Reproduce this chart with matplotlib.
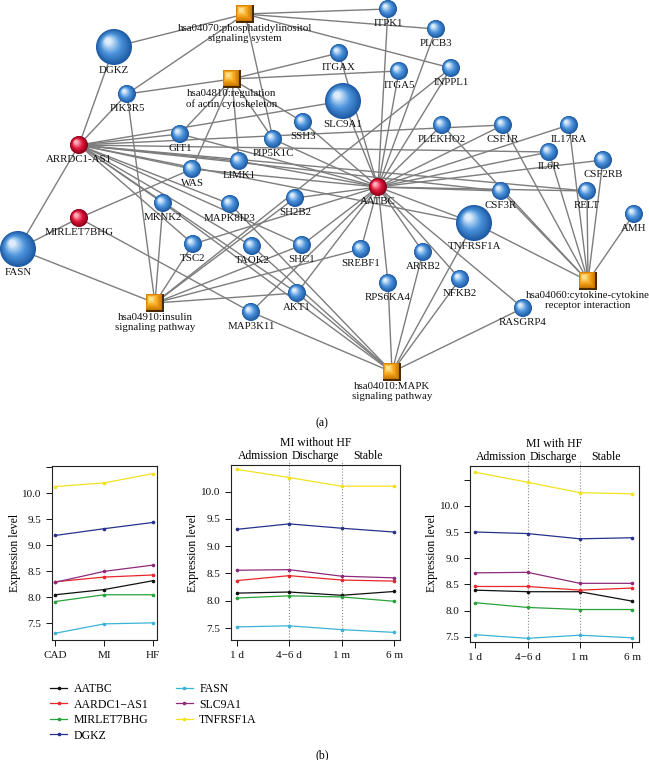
import numpy as np
import matplotlib.pyplot as plt
from matplotlib.patches import Circle, Rectangle
from matplotlib.colors import to_rgb
import matplotlib.transforms as mtrans

plt.rcParams['font.family'] = ['Liberation Serif', 'DejaVu Serif']

W, H = 649, 760

# ---------------- data: panel (b)
genes = ['AATBC', 'AARDC1\u2212AS1', 'MIRLET7BHG', 'DGKZ', 'FASN', 'SLC9A1', 'TNFRSF1A']
gene_colors = ['#111111', '#e8262b', '#27a33a', '#27318a', '#3bb3d6', '#8e2a78', '#f2e21e']

disease_groups = ['CAD', 'MI', 'HF']
disease_levels = [
    [8.05, 8.15, 8.32],
    [8.30, 8.39, 8.43],
    [7.92, 8.05, 8.05],
    [9.19, 9.32, 9.44],
    [7.31, 7.49, 7.51],
    [8.29, 8.50, 8.62],
    [10.13, 10.20, 10.38],
]

time_points = ['1 d', '4\u22126 d', '1 m', '6 m']
phases = ['Admission', 'Discharge', 'Stable']

mi_no_hf = [
    [8.14, 8.16, 8.10, 8.17],
    [8.37, 8.46, 8.38, 8.36],
    [8.05, 8.09, 8.07, 7.99],
    [9.31, 9.41, 9.33, 9.26],
    [7.52, 7.54, 7.47, 7.42],
    [8.56, 8.57, 8.45, 8.42],
    [10.41, 10.26, 10.10, 10.10],
]

mi_hf = [
    [8.39, 8.36, 8.36, 8.18],
    [8.46, 8.46, 8.39, 8.43],
    [8.15, 8.06, 8.02, 8.02],
    [9.50, 9.47, 9.37, 9.39],
    [7.54, 7.47, 7.53, 7.48],
    [8.72, 8.73, 8.52, 8.52],
    [10.64, 10.45, 10.25, 10.23],
]

# ---------------- data: network (a)
lncrnas = ['AATBC', 'ARRDC1-AS1', 'MIRLET7BHG']
big_genes = ['DGKZ', 'SLC9A1', 'FASN', 'TNFRSF1A']

pathway_names = {
    'hsa04070': 'hsa04070:phosphatidylinositol\nsignaling system',
    'hsa04810': 'hsa04810:regulation\nof actin cytoskeleton',
    'hsa04910': 'hsa04910:insulin\nsignaling pathway',
    'hsa04010': 'hsa04010:MAPK\nsignaling pathway',
    'hsa04060': 'hsa04060:cytokine-cytokine\nreceptor interaction',
}

pathway_genes = {
    'hsa04070': ['DGKZ', 'PIK3R5', 'PIP5K1C', 'ITPK1', 'PLCB3', 'INPPL1'],
    'hsa04810': ['PIK3R5', 'GIT1', 'WAS', 'LIMK1', 'PIP5K1C', 'SSH3', 'ITGAX', 'ITGA5'],
    'hsa04910': ['FASN', 'PIK3R5', 'MKNK2', 'TSC2', 'SH2B2', 'SHC1', 'AKT1', 'SREBF1', 'INPPL1'],
    'hsa04010': ['MKNK2', 'MAPK8IP3', 'TAOK2', 'MAP3K11', 'AKT1', 'RPS6KA4', 'ARRB2',
                 'NFKB2', 'TNFRSF1A', 'RASGRP4'],
    'hsa04060': ['CSF1R', 'IL17RA', 'IL6R', 'CSF2RB', 'CSF3R', 'RELT', 'AMH', 'TNFRSF1A', 'PLEKHO2'],
}

lnc_genes = {
    'AATBC': ['ITPK1', 'PLCB3', 'INPPL1', 'ITGA5', 'ITGAX', 'SLC9A1', 'PLEKHO2', 'CSF1R',
              'IL17RA', 'IL6R', 'CSF2RB', 'CSF3R', 'RELT', 'TNFRSF1A', 'RASGRP4', 'NFKB2',
              'ARRB2', 'RPS6KA4', 'SREBF1', 'AKT1', 'SHC1', 'SH2B2', 'TSC2', 'MAP3K11',
              'WAS', 'LIMK1', 'PIP5K1C', 'GIT1', 'SSH3'],
    'ARRDC1-AS1': ['DGKZ', 'PIK3R5', 'FASN', 'GIT1', 'SLC9A1', 'WAS', 'LIMK1', 'MKNK2',
                   'MAPK8IP3', 'TSC2', 'TAOK2', 'SHC1', 'AKT1', 'CSF1R', 'IL6R', 'RELT',
                   'CSF3R', 'TNFRSF1A'],
    'MIRLET7BHG': ['FASN', 'WAS', 'MAP3K11'],
}

# node layout in pixels of the original picture
layout = {
    'hsa04070': (245, 14), 'hsa04810': (232, 79), 'hsa04910': (155, 303),
    'hsa04010': (392, 372), 'hsa04060': (588, 281),
    'AATBC': (378, 187), 'ARRDC1-AS1': (79, 145), 'MIRLET7BHG': (79, 218),
    'DGKZ': (114, 47), 'PIK3R5': (127, 94), 'ITPK1': (388, 9), 'PLCB3': (436, 29),
    'ITGAX': (339, 53), 'ITGA5': (399, 71), 'INPPL1': (451, 68), 'SLC9A1': (343, 101),
    'GIT1': (180, 134), 'PIP5K1C': (273, 139), 'SSH3': (303, 122), 'LIMK1': (239, 161),
    'WAS': (192, 169), 'PLEKHO2': (442, 125), 'CSF1R': (503, 125), 'IL17RA': (569, 125),
    'IL6R': (549, 152), 'CSF2RB': (603, 160), 'CSF3R': (501, 191), 'RELT': (587, 191),
    'AMH': (634, 214), 'TNFRSF1A': (474, 223), 'MKNK2': (163, 203), 'MAPK8IP3': (230, 204),
    'SH2B2': (295, 198), 'TSC2': (193, 244), 'TAOK2': (252, 246), 'SHC1': (302, 245),
    'SREBF1': (361, 249), 'ARRB2': (423, 252), 'RPS6KA4': (388, 283), 'NFKB2': (460, 279),
    'RASGRP4': (523, 308), 'AKT1': (297, 293), 'MAP3K11': (251, 312), 'FASN': (18, 249),
}


def mix(c0, c1, t):
    return tuple(np.array(to_rgb(c0)) * (1 - t) + np.array(to_rgb(c1)) * t)


def sphere(ax, x, y, r, dark, mid, light):
    n = 16
    for i in range(n):
        t = i / (n - 1)
        col = mix(dark, mid, t * 2) if t < 0.5 else mix(mid, light, (t - 0.5) * 2)
        ax.add_patch(Circle((x - 0.32 * r * t, y - 0.32 * r * t), r * (1 - 0.82 * t),
                            color=col, lw=0, zorder=3))


def cube(ax, x, y, h):
    n = 14
    ax.add_patch(Rectangle((x - h, y - h), 2 * h, 2 * h, color='#4a2a00', lw=0, zorder=3))
    for i in range(n):
        t = i / (n - 1)
        col = mix('#c77700', '#f7a51c', t * 2) if t < 0.5 else mix('#f7a51c', '#ffe08a', (t - 0.5) * 2)
        hh = h * (1 - 0.7 * t) - 1
        ax.add_patch(Rectangle((x - hh - 0.35 * h * t - 1, y - hh - 0.35 * h * t - 1), 2 * hh, 2 * hh,
                               color=col, lw=0, zorder=3))


fig = plt.figure(figsize=(W / 100, H / 100), dpi=100)

# ---------------- network
net = fig.add_axes([0, 1 - 430 / H, 1, 430 / H])
net.set_xlim(0, W)
net.set_ylim(430, 0)
net.axis('off')

edges = [(p, g) for p, gl in pathway_genes.items() for g in gl]
edges += [(l, g) for l, gl in lnc_genes.items() for g in gl]
for a, b in edges:
    (x0, y0), (x1, y1) = layout[a], layout[b]
    net.plot([x0, x1], [y0, y1], color='#7d7d7d', lw=1.0, zorder=1, solid_capstyle='round')

for name, (x, y) in layout.items():
    if name in pathway_names:
        cube(net, x, y, 9)
        r, label = 9, pathway_names[name]
    elif name in lncrnas:
        r, label = 9, name
        sphere(net, x, y, r, '#8a0018', '#e0173a', '#ffb0bc')
    else:
        r = 18 if name in big_genes else 9
        label = name
        sphere(net, x, y, r, '#1d5aa3', '#4b93dc', '#dcecfb')
    net.text(x, y + r + 1, label, ha='center', va='top', fontsize=7.8,
             linespacing=1.15, color='#111111', zorder=4)

net.text(322, 423, '(a)', ha='center', va='center', fontsize=8.5)


# ---------------- line panels
def px_axes(x0, y0, x1, y1):
    return fig.add_axes([x0 / W, 1 - y1 / H, (x1 - x0) / W, (y1 - y0) / H])


def style(ax, yticks, ylabels):
    ax.set_yticks(yticks)
    ax.set_yticklabels(ylabels)
    ax.tick_params(direction='out', length=4, width=0.7, labelsize=8, pad=4, colors='#111111')
    for s in ax.spines.values():
        s.set_linewidth(0.8)
        s.set_color('#222222')


def draw_lines(ax, xlabels, levels):
    x = np.arange(len(xlabels))
    for vals, col, g in zip(levels, gene_colors, genes):
        ax.plot(x, vals, color=col, lw=0.9, marker='o', ms=1.6, label=g)
    ax.set_xticks(x)
    ax.set_xticklabels(xlabels)


ax1 = px_axes(52, 466, 157, 640)
draw_lines(ax1, disease_groups, disease_levels)
ax1.set_xlim(-0.07, 2.08)
ax1.set_ylim(7.18, 10.525)
style(ax1, [7.5, 8, 8.5, 9, 9.5, 10, 10.5], ['7.5', '8.0', '8.5', '9.0', '9.5', '10.0', ''])

ax2 = px_axes(231, 465, 400, 640)
draw_lines(ax2, time_points, mi_no_hf)
ax2.set_xlim(-0.11, 3.11)
ax2.set_ylim(7.28, 10.49)
style(ax2, [7.5, 8, 8.5, 9, 9.5, 10], ['7.5', '8.0', '8.5', '9.0', '9.5', '10.0'])

ax3 = px_axes(470, 466, 639, 642)
draw_lines(ax3, time_points, mi_hf)
ax3.set_xlim(-0.1, 3.13)
ax3.set_ylim(7.40, 10.76)
style(ax3, [7.5, 8, 8.5, 9, 9.5, 10, 10.5], ['7.5', '8.0', '8.5', '9.0', '9.5', '10.0', ''])

for ax, title in [(ax2, 'MI without HF'), (ax3, 'MI with HF')]:
    tr = mtrans.blended_transform_factory(ax.transData, ax.transAxes)
    for xv in (1, 2):
        ax.axvline(xv, ymin=0, ymax=1.03, color='#888888', ls=':', lw=0.8, clip_on=False, zorder=0)
    for i, ph in enumerate(phases):
        ax.text(i + 0.5, 1.015, ph, transform=tr, ha='center', va='bottom', fontsize=8.5)
    ax.text(1.5, 1.09, title, transform=tr, ha='center', va='bottom', fontsize=8.5)

for xp in (15, 193, 432):
    fig.text(xp / W, 1 - 553 / H, 'Expression level', rotation=90, ha='center', va='center', fontsize=8.5)

fig.legend(*ax1.get_legend_handles_labels(), loc='upper left',
           bbox_to_anchor=(50 / W, 1 - 683 / H), ncol=2, frameon=False, fontsize=8.5,
           handlelength=1.45, handletextpad=0.55, columnspacing=2.3, labelspacing=0.3,
           borderpad=0, borderaxespad=0)

fig.text(322 / W, 1 - 755 / H, '(b)', ha='center', va='center', fontsize=8.5)

fig.savefig('out.png', dpi=100)
